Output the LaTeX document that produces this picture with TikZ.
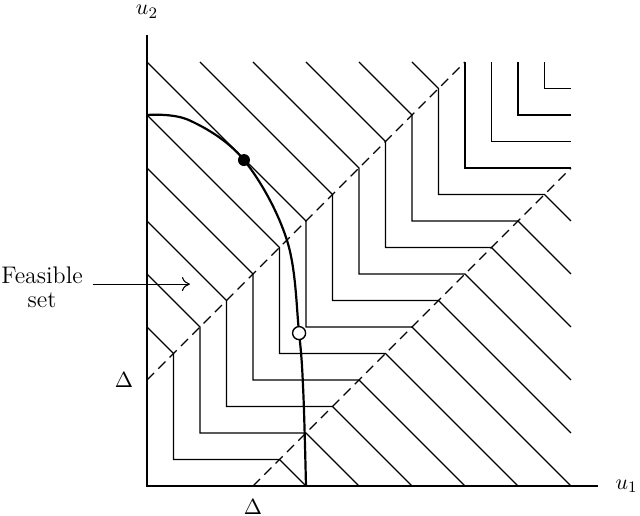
\documentclass[tikz,border=0pt]{standalone}
\usetikzlibrary{arrows.meta}
\tikzset{
  contour/.style={line width=0.55pt},
  axis/.style={line width=0.6pt},
  dashline/.style={line width=0.55pt, dash pattern=on 5pt off 3pt},
  lbl/.style={font=\fontsize{11}{13}\selectfont, inner sep=0pt},
  fslbl/.style={font=\fontsize{12}{14}\selectfont, inner sep=0pt}
}
\begin{document}
\begin{tikzpicture}[x=13.25pt,y=13.25pt]
\useasboundingbox (-5.547,-1.132) rectangle (18.604,18.34);
% contours
\foreach \c in {1,...,15}{
  \pgfmathsetmacro\sx{max(0,min(\c,2*\c-12))}
  \pgfmathsetmacro\sy{min(16,2*\c+4)}
  \pgfmathsetmacro\ty{min(\c+4,16)}
  \pgfmathsetmacro\rx{min(\c+4,16)}
  \pgfmathsetmacro\ex{min(16,2*\c+4)}
  \pgfmathsetmacro\ey{max(0,min(\c,2*\c-12))}
  \draw[contour] (\sx,\sy) -- (\c,\ty) -- (\c,\c) -- (\rx,\c) -- (\ex,\ey);
}
% dashed lines
\draw[dashline] (0,4) -- (12,16);
\draw[dashline] (4,0) -- (16,12);
% axes
\coordinate (O) at (0,0);
\coordinate (X) at (17.02,0);
\coordinate (Y) at (0,17.02);
\draw[axis] (Y) -- (O) -- (X);
\node[lbl] (u1) at (18.1,0) {$u_1$};
\node[lbl] (u2) at (0,17.9) {$u_2$};
\node[lbl] (d1) at (-0.87,4) {$\Delta$};
\node[lbl] (d2) at (4,-0.8) {$\Delta$};
% curve
\draw[line width=1.1pt] plot[smooth, tension=0.6] coordinates
  {(0,14) (1.6,13.8) (3.66,12.3) (5.28,9.28) (5.74,5.77) (5.9,3.5) (6,0)};
\node[circle, fill=black, minimum size=6pt, inner sep=0pt] (opt) at (3.66,12.3) {};
\node[circle, draw=black, line width=0.7pt, fill=white, minimum size=6.5pt, inner sep=0pt] (sub) at (5.74,5.77) {};
% feasible set
\node[fslbl, align=center] (fs) at (-3.96,7.5) {Feasible\\[-2pt]set};
\coordinate (as) at (-2.04,7.62);
\coordinate (ae) at (1.62,7.62);
\draw[contour, -{To[length=4pt,width=7pt]}] (as) -- (ae);
\end{tikzpicture}
\end{document}
